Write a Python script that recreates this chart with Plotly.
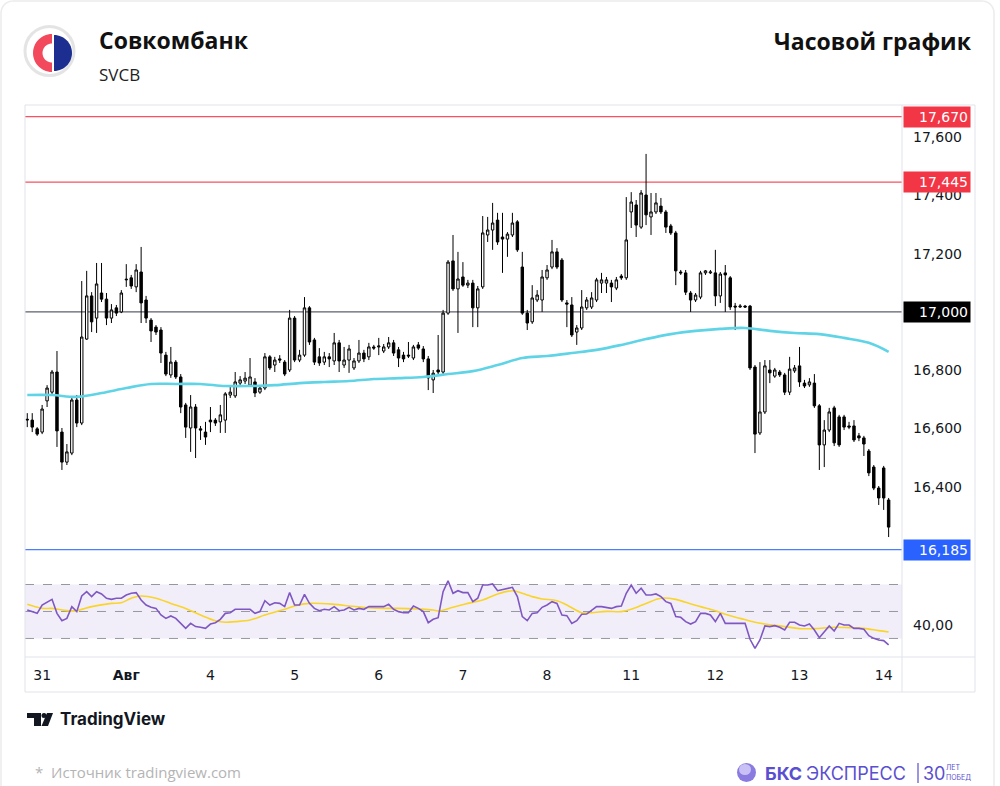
import numpy as np
import plotly.graph_objects as go

# ---------------- data ----------------
day_labels = ["31", "<b>Авг</b>", "4", "5", "6", "7", "8", "11", "12", "13", "14"]
day_start_idx = [3, 20, 37, 54, 71, 88, 105, 122, 139, 156, 173]

opens = [16632,16629,16599,16588,16695,16725,16794,16588,16485,16516,16698,16619,16907,17055,16979,17065,17044,16979,17014,17000,
         17110,17117,17086,17137,17041,16972,16948,16938,16852,16784,16828,16777,16681,16602,16674,16599,16588,16629,16629,16623,
         16629,16715,16712,16756,16763,16749,16760,16725,16739,16846,16818,16839,16828,16801,16979,16835,16852,17014,16904,16846,
         16828,16846,16832,16894,16818,16835,16808,16832,16859,16846,16880,16880,16866,16880,16894,16870,16852,16852,16842,16887,
         16873,16839,16767,16801,16794,16996,17175,17079,17120,17092,17099,17014,17086,17264,17281,17315,17257,17250,17264,17309,
         17154,16996,16966,17041,17041,17117,17154,17206,17178,17031,17024,16931,16945,17014,17017,17041,17099,17099,17099,17082,
         17123,17117,17343,17367,17291,17401,17326,17343,17363,17343,17295,17271,17137,17134,17065,17041,17051,17134,17134,17134,
         17055,17134,17117,17020,17017,17020,17020,16811,16585,16657,16801,16780,16794,16784,16725,16798,16815,16756,16750,16756,
         16678,16544,16595,16671,16640,16640,16609,16609,16575,16568,16523,16468,16396,16465,16355]
highs = [16653,16653,16605,16681,16749,16801,16866,16602,16547,16708,16715,17106,17141,17068,17168,17168,17065,17027,17024,17075,
         17164,17127,17164,17223,17055,16979,16955,16948,16863,16880,16835,16787,16688,16715,16684,16609,16623,16674,16636,16681,
         16725,16749,16794,16780,16794,16842,16773,16746,16859,16852,16846,16852,16835,17007,16986,16870,17051,17020,16911,16876,
         16863,16859,16928,16904,16880,16887,16842,16904,16870,16894,16887,16911,16890,16914,16904,16880,16863,16897,16887,16897,
         16883,16849,16801,16921,17007,17178,17264,17206,17171,17110,17110,17089,17329,17326,17374,17340,17340,17274,17340,17315,
         17206,17007,17092,17075,17144,17161,17247,17219,17185,17041,17051,16955,17075,17051,17068,17117,17134,17120,17110,17120,
         17130,17394,17411,17384,17418,17542,17408,17408,17391,17350,17302,17278,17144,17144,17072,17065,17141,17144,17144,17213,
         17137,17161,17123,17031,17027,17024,17024,16818,16828,16835,16835,16808,16801,16791,16846,16818,16880,16767,16773,16787,
         16684,16629,16671,16678,16647,16647,16623,16629,16585,16575,16530,16475,16403,16472,16362]
lows = [16605,16588,16575,16581,16674,16715,16537,16458,16475,16509,16605,16612,16904,16931,16928,17034,16955,16962,16986,16996,
        17086,17079,17068,16962,16962,16897,16921,16825,16780,16774,16770,16653,16568,16520,16499,16561,16544,16588,16609,16585,
        16585,16705,16705,16746,16753,16743,16708,16719,16732,16801,16794,16825,16780,16794,16828,16828,16846,16887,16818,16815,
        16818,16811,16818,16794,16808,16791,16801,16825,16828,16835,16870,16852,16859,16873,16849,16811,16828,16842,16835,16870,
        16828,16732,16722,16787,16787,16990,17072,16928,17086,17082,16948,16948,17079,17240,17213,17230,17134,17189,17257,17206,
        16990,16938,16959,17034,17000,17110,17147,17147,17034,16948,16914,16887,16938,17007,17010,17034,17065,17065,17034,17075,
        17110,17110,17288,17257,17285,17298,17264,17336,17336,17271,17264,17092,17127,17058,17000,17034,17044,17127,17130,17020,
        17031,17000,17007,16938,17014,17014,16801,16516,16578,16650,16756,16774,16777,16715,16715,16791,16743,16739,16743,16671,
        16458,16468,16588,16540,16537,16595,16598,16554,16557,16506,16437,16389,16338,16321,16228]
closes = [16630,16605,16581,16667,16739,16794,16592,16485,16520,16698,16619,16914,17055,16966,17096,17044,16979,17007,16996,17065,
          17112,17089,17144,17031,16979,16935,16931,16859,16787,16828,16777,16674,16605,16674,16602,16595,16571,16623,16619,16647,
          16719,16725,16760,16767,16773,16777,16722,16739,16846,16808,16835,16835,16787,16979,16835,16852,17014,16897,16828,16825,
          16846,16839,16894,16832,16835,16873,16832,16859,16839,16880,16876,16883,16880,16894,16859,16842,16839,16849,16880,16876,
          16839,16774,16790,16794,16996,17171,17079,17113,17092,17099,17014,17079,17271,17281,17305,17240,17250,17267,17305,17213,
          16996,16962,17048,17058,17120,17144,17206,17154,17041,17027,16921,16945,17017,17041,17048,17110,17110,17110,17086,17110,
          17117,17247,17377,17298,17408,17333,17343,17374,17343,17291,17271,17141,17134,17068,17041,17058,17134,17141,17137,17055,
          17130,17127,17017,17017,17020,17017,16808,16581,16657,16815,16791,16801,16784,16725,16804,16808,16760,16746,16760,16678,
          16544,16595,16657,16551,16544,16605,16605,16561,16568,16547,16448,16396,16362,16362,16262]

ma_idx = [0,5,10,15,20,25,30,35,40,45,50,55,60,65,70,75,80,85,90,95,100,105,110,115,120,125,130,135,140,145,150,155,160,165,170,174]
ma_vals = [16715,16715,16709,16722,16739,16753,16753,16753,16746,16746,16749,16756,16760,16763,16770,16773,16777,16787,16797,16818,
           16842,16849,16859,16870,16887,16907,16924,16935,16942,16945,16935,16928,16924,16911,16894,16863]

rsi_vals = [51.1,50.0,48.6,54.8,57.0,59.0,48.6,43.2,44.9,53.6,49.9,61.5,64.7,61.0,64.7,63.0,59.8,59.0,59.8,59.8,
            62.2,63.5,64.0,58.5,54.8,53.1,52.3,47.4,44.9,46.7,44.9,41.2,37.5,41.2,38.8,38.3,37.5,40.7,41.7,44.2,
            48.6,49.1,51.6,51.6,51.6,51.6,48.6,49.9,58.0,54.8,56.5,56.0,53.6,64.0,54.8,54.8,62.7,56.0,52.3,50.6,
            51.6,51.1,53.6,50.6,51.1,53.1,51.1,52.3,51.6,53.6,53.6,53.6,53.6,55.3,51.6,49.9,49.1,49.1,54.1,52.3,
            49.9,41.7,44.2,45.4,64.7,72.8,63.5,65.4,64.0,64.0,57.3,59.8,69.6,69.6,70.4,65.4,66.4,67.0,67.9,61.0,
            46.2,43.2,48.6,49.1,53.1,54.8,57.3,56.0,47.4,46.9,41.2,43.2,47.9,48.1,50.6,53.6,53.6,53.1,52.3,53.6,
            54.1,63.5,69.6,63.5,67.2,62.2,62.2,63.0,61.0,57.3,56.0,46.2,45.7,42.5,40.7,42.5,48.6,48.6,47.4,42.5,
            48.6,41.2,41.2,41.2,41.2,41.2,29.4,22.7,28.9,39.3,38.8,39.5,38.3,36.3,42.0,42.0,40.0,39.3,40.7,36.3,
            30.6,35.0,39.3,35.5,41.2,40.0,40.0,37.5,37.5,36.8,32.1,30.1,28.9,28.4,25.2]

rsi_ma_idx = [0,3,5,8,10,13,17,19,21,23,26,29,32,35,38,40,42,45,48,52,54,57,62,65,69,72,75,79,82,83,86,89,92,95,98,99,
              102,104,107,109,112,114,117,120,122,125,128,131,133,136,139,141,144,147,149,153,156,159,163,166,169,172,174]
rsi_ma_vals = [55.3,52.3,52.3,50.6,50.6,53.6,56.0,56.5,59.8,61.5,59.8,56.0,52.3,47.4,43.2,42.0,42.5,43.7,47.4,51.6,54.1,56.0,55.3,
               54.1,52.8,52.3,52.3,51.8,51.1,50.4,53.1,56.0,58.5,63.0,65.4,64.7,61.0,59.3,58.0,54.8,49.1,49.1,50.1,49.9,51.6,
               56.0,59.8,59.0,56.8,53.6,50.6,47.9,44.9,42.0,40.7,38.8,37.3,37.3,38.3,38.0,37.5,35.8,34.8]

price_ticks = [16400, 16600, 16800, 17200, 17400, 17600]
price_tick_text = ["16,400", "16,600", "16,800", "17,200", "17,400", "17,600"]
levels = [17670, 17445, 17000, 16185]
level_text = ["17,670", "17,445", "17,000", "16,185"]
level_colors = ["#f23645", "#f23645", "#000000", "#2962ff"]
level_line_colors = ["#f7525f", "#f7525f", "#5d606b", "#4d7cff"]
rsi_levels = [70, 50, 30]

idx = list(range(len(opens)))

# ---------------- layout helpers ----------------
W, H = 1000, 786
def X(px): return px / W
def Y(py): return 1 - py / H

def arc(cx, cy, r, a0, a1, n=30):
    return [(cx + r * np.cos(t), cy - r * np.sin(t)) for t in np.linspace(a0, a1, n)]

def path(pts):
    return "M " + " L ".join(f"{X(x):.5f},{Y(y):.5f}" for x, y in pts) + " Z"

CH_L, CH_R, AX_R = 25, 902, 975
P_TOP, P_BOT = 106, 568
R_TOP, R_BOT = 570, 656
FONT_CH = "DejaVu Sans"

fig = go.Figure()

fig.add_trace(go.Scatter(x=ma_idx, y=ma_vals, mode="lines",
                         line=dict(color="#5fd4e6", width=2.6, shape="spline", smoothing=1.0),
                         xaxis="x", yaxis="y", hoverinfo="skip"))
fig.add_trace(go.Candlestick(x=idx, open=opens, high=highs, low=lows, close=closes,
                             increasing=dict(line=dict(color="#000000", width=1), fillcolor="#ffffff"),
                             decreasing=dict(line=dict(color="#000000", width=1), fillcolor="#000000"),
                             whiskerwidth=0, xaxis="x", yaxis="y"))
fig.add_trace(go.Scatter(x=rsi_ma_idx, y=rsi_ma_vals, mode="lines",
                         line=dict(color="#f9d42a", width=1.6, shape="spline", smoothing=1.0),
                         xaxis="x2", yaxis="y2", hoverinfo="skip"))
fig.add_trace(go.Scatter(x=idx, y=rsi_vals, mode="lines",
                         line=dict(color="#7e57c2", width=1.6),
                         xaxis="x2", yaxis="y2", hoverinfo="skip"))

xr = [-0.46, 176.7]
shapes = []
annotations = []

# RSI band and dashed levels
shapes.append(dict(type="rect", xref="paper", yref="y2", x0=X(CH_L), x1=X(CH_R), y0=30, y1=70,
                   fillcolor="rgba(126,87,194,0.10)", line=dict(width=0), layer="below"))
for lv in rsi_levels:
    shapes.append(dict(type="line", xref="paper", yref="y2", x0=X(CH_L), x1=X(CH_R), y0=lv, y1=lv,
                       line=dict(color="#9598a1", width=1, dash="dash"), layer="below"))

# price level lines
for lv, lc in zip(levels, level_line_colors):
    shapes.append(dict(type="line", xref="paper", yref="y", x0=X(CH_L), x1=X(CH_R), y0=lv, y1=lv,
                       line=dict(color=lc, width=1.2), layer="below"))
for lv, txt_, col in zip(levels, level_text, level_colors):
    annotations.append(dict(xref="paper", yref="y", x=X(903), y=lv, xanchor="left", yanchor="middle",
                            text=txt_, showarrow=False, bgcolor=col, width=62, align="right", borderpad=2,
                            font=dict(family=FONT_CH, size=14, color="#ffffff")))

# chart frame
frame_col = "#e0e3eb"
shapes += [
    dict(type="rect", xref="paper", yref="paper", x0=X(CH_L), x1=X(AX_R), y0=Y(692), y1=Y(105),
         line=dict(color=frame_col, width=1)),
    dict(type="line", xref="paper", yref="paper", x0=X(CH_R), x1=X(CH_R), y0=Y(692), y1=Y(105),
         line=dict(color=frame_col, width=1)),
    dict(type="line", xref="paper", yref="paper", x0=X(CH_L), x1=X(AX_R), y0=Y(R_BOT + 1), y1=Y(R_BOT + 1),
         line=dict(color=frame_col, width=1)),
]
# outer card
card = [(1, 800)] + [(1, 12)] + arc(13, 13, 12, np.pi, np.pi / 2, 12) + arc(982, 13, 12, np.pi / 2, 0, 12) + [(994, 800)]
shapes.append(dict(type="path", xref="paper", yref="paper",
                   path="M " + " L ".join(f"{X(x):.5f},{Y(y):.5f}" for x, y in card),
                   line=dict(color="#ececec", width=1.5)))

# Sovcombank logo
cx, cy = 49.5, 51
shapes.append(dict(type="circle", xref="paper", yref="paper", x0=X(cx - 24.5), x1=X(cx + 24.5),
                   y0=Y(cy + 24.5), y1=Y(cy - 24.5), fillcolor="#ffffff", line=dict(color="#e4e4e4", width=3)))
rc = (52, 53)
red_c = arc(rc[0], rc[1], 19, np.pi / 2, 3 * np.pi / 2) + arc(rc[0], rc[1], 9.5, 3 * np.pi / 2, np.pi / 2)
shapes.append(dict(type="path", xref="paper", yref="paper", path=path(red_c),
                   fillcolor="#f2495c", line=dict(width=0)))
bc = (54, 53)
blue_d = arc(bc[0], bc[1], 18, np.pi / 2, -np.pi / 2) + [(bc[0], bc[1] + 18)]
shapes.append(dict(type="path", xref="paper", yref="paper", path=path(blue_d),
                   fillcolor="#1c2f91", line=dict(width=0)))

# TradingView logo icon
shapes.append(dict(type="path", xref="paper", yref="paper",
                   path=path([(27, 713), (41, 713), (41, 726), (34, 726), (34, 718), (27, 718)]),
                   fillcolor="#131722", line=dict(width=0)))
shapes.append(dict(type="circle", xref="paper", yref="paper", x0=X(41.5), x1=X(46.5), y0=Y(718), y1=Y(713),
                   fillcolor="#131722", line=dict(width=0)))
shapes.append(dict(type="path", xref="paper", yref="paper",
                   path=path([(47, 713), (53, 713), (48, 726), (41.5, 726)]),
                   fillcolor="#131722", line=dict(width=0)))

# BKS logo circle
shapes.append(dict(type="circle", xref="paper", yref="paper", x0=X(737), x1=X(756), y0=Y(782), y1=Y(763),
                   fillcolor="#8a7be0", line=dict(width=0)))
shapes.append(dict(type="circle", xref="paper", yref="paper", x0=X(739), x1=X(751), y0=Y(775), y1=Y(764),
                   fillcolor="#c9c1f5", line=dict(width=0)))
shapes.append(dict(type="line", xref="paper", yref="paper", x0=X(918), x1=X(918), y0=Y(783), y1=Y(763),
                   line=dict(color="#5a4fcf", width=1.2)))

def txt(x, y, s, size, color="#111111", anchor="left", family="Open Sans"):
    annotations.append(dict(xref="paper", yref="paper", x=X(x), y=Y(y), text=s, showarrow=False,
                            xanchor=anchor, yanchor="middle", font=dict(family=family, size=size, color=color)))

txt(97, 40, "<b>Совкомбанк</b>", 23)
txt(97, 74, "SVCB", 17, "#222222")
txt(974, 41, "<b>Часовой график</b>", 23, anchor="right")
txt(58, 719, "<b>TradingView</b>", 17, "#131722", family="Inter")
txt(33, 772, "*  Источник tradingview.com", 15, "#b4b4b4")
txt(763, 773, "<b>БКС</b>", 18, "#5a4fcf", family="Inter")
txt(804, 773, "ЭКСПРЕСС", 18, "#5a4fcf", family="Inter")
txt(921, 773, "30", 18, "#5a4fcf", family="Inter")
txt(944, 767, "ЛЕТ", 7, "#5a4fcf", family="Inter")
txt(944, 777, "ПОБЕД", 7, "#5a4fcf", family="Inter")

fig.update_layout(
    width=W, height=H, margin=dict(l=0, r=0, t=0, b=0),
    paper_bgcolor="#ffffff", plot_bgcolor="#ffffff",
    showlegend=False, hovermode=False,
    xaxis=dict(domain=[X(CH_L), X(CH_R)], range=xr, anchor="y", showticklabels=False, showgrid=False,
               zeroline=False, showline=False, ticks="", rangeslider=dict(visible=False), fixedrange=True),
    xaxis2=dict(domain=[X(CH_L), X(CH_R)], range=xr, anchor="y2", showgrid=False, zeroline=False,
                showline=False, ticks="", tickvals=day_start_idx, ticktext=day_labels,
                tickfont=dict(family=FONT_CH, size=14, color="#131722"), ticklabelstandoff=9),
    yaxis=dict(domain=[Y(P_BOT), Y(P_TOP)], range=[16121.8, 17706.4], side="right", anchor="x",
               showgrid=False, zeroline=False, showline=False, ticks="",
               tickvals=price_ticks, ticktext=price_tick_text, ticklabelstandoff=10,
               tickfont=dict(family=FONT_CH, size=14, color="#131722")),
    yaxis2=dict(domain=[Y(R_BOT), Y(R_TOP)], range=[17.0, 80.75], side="right", anchor="x2",
                showgrid=False, zeroline=False, showline=False, ticks="",
                tickvals=[40], ticktext=["40,00"], ticklabelstandoff=10,
                tickfont=dict(family=FONT_CH, size=14, color="#131722")),
    shapes=shapes, annotations=annotations,
)

fig.write_html("out.html")
